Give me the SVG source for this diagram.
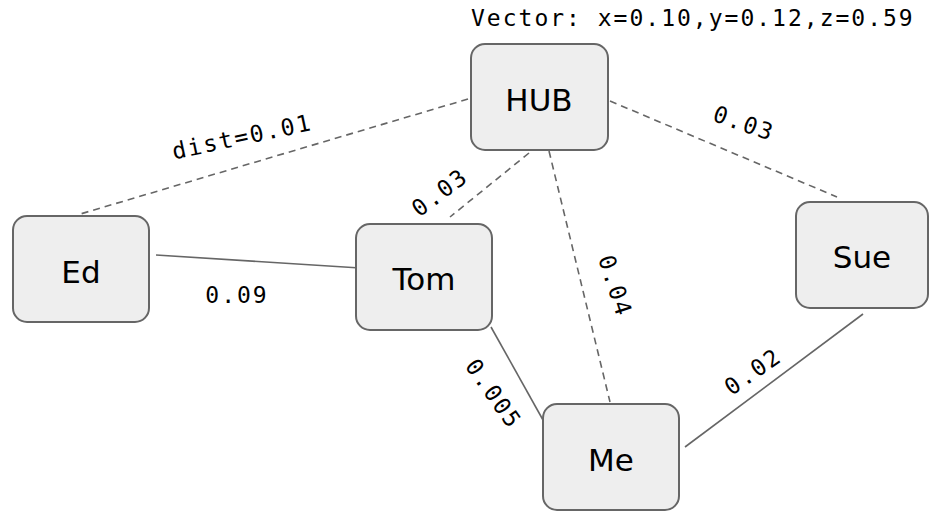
<svg xmlns="http://www.w3.org/2000/svg" width="929" height="511" viewBox="0 0 929 511">
  <style>
    .node rect { fill: #eeeeee; stroke: #666666; stroke-width: 2; }
    .node text { font-family: "DejaVu Sans", sans-serif; font-size: 31px; fill: #000000; text-anchor: middle; }
    .edge { stroke: #666666; stroke-width: 1.6; fill: none; }
    .dashed { stroke-dasharray: 7 5; }
    .elabel { font-family: "DejaVu Sans Mono", monospace; font-size: 23px; letter-spacing: 2px; fill: #000000; text-anchor: middle; }
    .caption { font-family: "DejaVu Sans Mono", monospace; font-size: 23px; letter-spacing: 2px; fill: #000000; }
  </style>
  <rect width="929" height="511" fill="#ffffff"/>

  <text class="caption" x="471" y="26">Vector: x=0.10,y=0.12,z=0.59</text>

  <g id="connectors">
    <line class="edge dashed" x1="468" y1="99" x2="77" y2="215"/>
    <line class="edge dashed" x1="610" y1="101" x2="837" y2="197"/>
    <line class="edge dashed" x1="529" y1="153" x2="450" y2="217"/>
    <line class="edge dashed" x1="549" y1="151" x2="610" y2="402"/>
    <line class="edge" x1="156" y1="255" x2="360" y2="268"/>
    <line class="edge" x1="491" y1="327" x2="543" y2="420"/>
    <line class="edge" x1="685" y1="447" x2="863" y2="314"/>

    <g transform="translate(241,137) rotate(-12)"><text class="elabel" x="1" y="8">dist=0.01</text></g>
    <g transform="translate(439,193) rotate(-37)"><text class="elabel" x="1" y="8">0.03</text></g>
    <g transform="translate(743,123) rotate(19)"><text class="elabel" x="1" y="8">0.03</text></g>
    <g transform="translate(615,285) rotate(72)"><text class="elabel" x="1" y="8">0.04</text></g>
    <g transform="translate(493,393) rotate(55)"><text class="elabel" x="1" y="8">0.005</text></g>
    <g transform="translate(752,372) rotate(-35)"><text class="elabel" x="1" y="8">0.02</text></g>
    <g transform="translate(236,295)"><text class="elabel" x="1" y="8">0.09</text></g>
  </g>

  <g id="node-hub" class="node">
    <rect x="471" y="44" width="137" height="106" rx="14"/>
    <text x="539" y="111">HUB</text>
  </g>
  <g id="node-ed" class="node">
    <rect x="13" y="216" width="136" height="106" rx="14"/>
    <text x="81" y="283">Ed</text>
  </g>
  <g id="node-tom" class="node">
    <rect x="356" y="224" width="136" height="106" rx="14"/>
    <text x="424" y="290">Tom</text>
  </g>
  <g id="node-sue" class="node">
    <rect x="796" y="202" width="132" height="106" rx="14"/>
    <text x="862" y="268">Sue</text>
  </g>
  <g id="node-me" class="node">
    <rect x="543" y="404" width="136" height="106" rx="14"/>
    <text x="611" y="471">Me</text>
  </g>
</svg>
